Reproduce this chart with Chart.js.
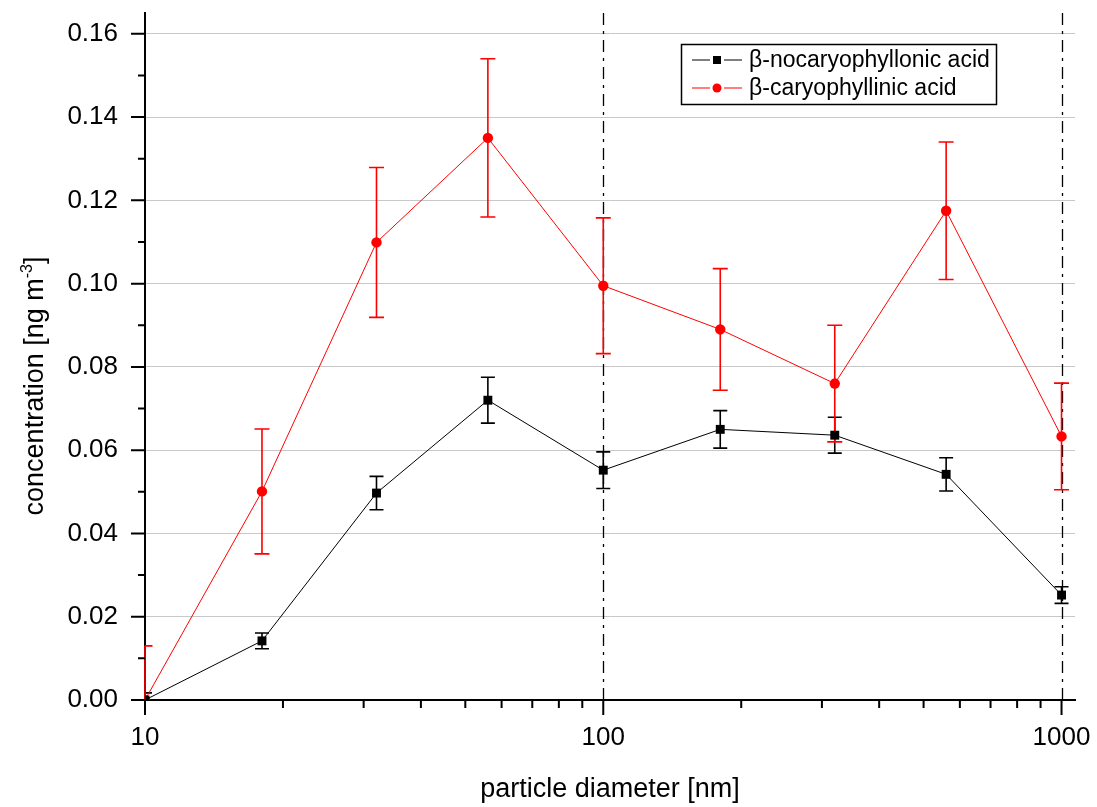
<!DOCTYPE html>
<html>
<head>
<meta charset="utf-8">
<script src="https://cdn.jsdelivr.net/npm/chart.js@4.4.1/dist/chart.umd.min.js"></script>
<style>
  html, body { margin: 0; padding: 0; background: #fff; }
  canvas { display: block; }
</style>
</head>
<body>
<canvas id="chart" width="1097" height="807"></canvas>
<script>
// particle diameter (nm) and the two series
const diameters = [10, 18, 32, 56, 100, 180, 320, 560, 1000];
const nocaryValues = [0.0000, 0.0142, 0.0497, 0.0720, 0.0552, 0.0650, 0.0636, 0.0542, 0.0252];
const nocaryErrors = [0.0017, 0.0019, 0.0040, 0.0055, 0.0044, 0.0045, 0.0043, 0.0040, 0.0020];
const caryValues = [0.0000, 0.0501, 0.1099, 0.1350, 0.0995, 0.0890, 0.0760, 0.1175, 0.0633];
const caryErrors = [0.0130, 0.0150, 0.0180, 0.0190, 0.0163, 0.0146, 0.0140, 0.0165, 0.0128];

const xMajorTicks = [10, 100, 1000];
const xMinorTicks = [20, 30, 40, 50, 60, 70, 80, 90, 200, 300, 400, 500, 600, 700, 800, 900];
const yMajorTicks = [0, 0.02, 0.04, 0.06, 0.08, 0.10, 0.12, 0.14, 0.16];
const yMinorTicks = [0.01, 0.03, 0.05, 0.07, 0.09, 0.11, 0.13, 0.15];
const dashDotLines = [100, 1000];

const FONT = "'Liberation Sans', Arial, sans-serif";

function toPoints(values) {
  return diameters.map((d, i) => ({ x: d, y: values[i] }));
}

// keep the plot frame where the reference has it
function noLabelPadding(s) {
  s.paddingTop = 0; s.paddingBottom = 0; s.paddingLeft = 0; s.paddingRight = 0;
}

const errorBars = {
  id: 'errorBars',
  beforeDatasetsDraw(chart) {
    const { ctx, chartArea, scales: { x, y } } = chart;
    ctx.save();
    ctx.beginPath();
    ctx.rect(chartArea.left - 2, chartArea.top, chartArea.right - chartArea.left + 2, chartArea.bottom - chartArea.top);
    ctx.clip();

    // vertical dash-dot lines at the decades
    ctx.strokeStyle = '#000';
    ctx.lineWidth = 1.3;
    ctx.setLineDash([12, 6, 3, 6]);
    dashDotLines.forEach(v => {
      const px = Math.round(x.getPixelForValue(v)) + 0.5;
      ctx.beginPath();
      ctx.moveTo(px, chartArea.bottom);
      ctx.lineTo(px, chartArea.top);
      ctx.stroke();
    });
    ctx.setLineDash([]);

    chart.data.datasets.forEach(ds => {
      const errs = ds.errors;
      ctx.strokeStyle = ds.borderColor;
      ctx.lineWidth = 1.6;
      ds.data.forEach((p, i) => {
        const px = x.getPixelForValue(p.x);
        const top = y.getPixelForValue(p.y + errs[i]);
        const bot = y.getPixelForValue(p.y - errs[i]);
        const cap = ds.capWidth / 2;
        ctx.beginPath();
        ctx.moveTo(px, top); ctx.lineTo(px, bot);
        ctx.moveTo(Math.max(px - cap, chartArea.left), top); ctx.lineTo(px + cap, top);
        ctx.moveTo(Math.max(px - cap, chartArea.left), bot); ctx.lineTo(px + cap, bot);
        ctx.stroke();
      });
    });
    ctx.restore();
  },
  afterDraw(chart) {
    const { ctx, chartArea, scales: { x, y } } = chart;
    ctx.save();
    ctx.strokeStyle = '#000';
    ctx.lineWidth = 2;

    // y ticks, outward
    ctx.beginPath();
    yMajorTicks.forEach(v => {
      const py = y.getPixelForValue(v);
      ctx.moveTo(chartArea.left - 14, py); ctx.lineTo(chartArea.left, py);
    });
    yMinorTicks.forEach(v => {
      const py = y.getPixelForValue(v);
      ctx.moveTo(chartArea.left - 7, py); ctx.lineTo(chartArea.left, py);
    });
    // x ticks, outward
    xMajorTicks.forEach(v => {
      const px = x.getPixelForValue(v);
      ctx.moveTo(px, chartArea.bottom); ctx.lineTo(px, chartArea.bottom + 15);
    });
    xMinorTicks.forEach(v => {
      const px = x.getPixelForValue(v);
      ctx.moveTo(px, chartArea.bottom); ctx.lineTo(px, chartArea.bottom + 8);
    });
    ctx.stroke();

    // y axis title with superscript
    ctx.fillStyle = '#000';
    ctx.translate(43, 386);
    ctx.rotate(-Math.PI / 2);
    ctx.textBaseline = 'alphabetic';
    const main = 'concentration [ng m';
    const sup = '-3';
    const end = ']';
    ctx.font = '27px ' + FONT;
    const wMain = ctx.measureText(main).width;
    const wEnd = ctx.measureText(end).width;
    ctx.font = '16px ' + FONT;
    const wSup = ctx.measureText(sup).width;
    let tx = -(wMain + wSup + wEnd) / 2;
    ctx.font = '27px ' + FONT;
    ctx.fillText(main, tx, 0);
    tx += wMain;
    ctx.font = '16px ' + FONT;
    ctx.fillText(sup, tx, -11);
    tx += wSup;
    ctx.font = '27px ' + FONT;
    ctx.fillText(end, tx, 0);
    ctx.restore();

    // legend box
    ctx.save();
    const lx = 681, ly = 44, lw = 315, lh = 60;
    ctx.fillStyle = '#fff';
    ctx.fillRect(lx, ly, lw, lh);
    ctx.strokeStyle = '#000';
    ctx.lineWidth = 1.5;
    ctx.strokeRect(lx + 0.5, ly + 0.5, lw, lh);
    const rows = [60, 88];
    chart.data.datasets.forEach((ds, i) => {
      const ry = rows[i];
      ctx.strokeStyle = ds.borderColor;
      ctx.lineWidth = 1.2;
      ctx.beginPath();
      ctx.moveTo(692, ry); ctx.lineTo(710, ry);
      ctx.moveTo(724, ry); ctx.lineTo(742, ry);
      ctx.stroke();
      ctx.fillStyle = ds.borderColor;
      if (ds.pointStyle === 'rect') {
        ctx.fillRect(713, ry - 4, 8, 8);
      } else {
        ctx.beginPath();
        ctx.arc(717, ry, 4.5, 0, Math.PI * 2);
        ctx.fill();
      }
      ctx.fillStyle = '#000';
      ctx.font = '23px ' + FONT;
      ctx.textBaseline = 'middle';
      ctx.fillText(ds.label, 749, ry + 1);
    });
    ctx.restore();
  }
};

new Chart(document.getElementById('chart'), {
  type: 'line',
  data: {
    datasets: [
      {
        label: '\u03b2-nocaryophyllonic acid',
        data: toPoints(nocaryValues),
        errors: nocaryErrors,
        capWidth: 14,
        borderColor: '#000',
        backgroundColor: '#000',
        borderWidth: 1,
        pointStyle: 'rect',
        pointRadius: 6.3,
        pointBorderWidth: 0,
        tension: 0,
        clip: 0
      },
      {
        label: '\u03b2-caryophyllinic acid',
        data: toPoints(caryValues),
        errors: caryErrors,
        capWidth: 15,
        borderColor: '#ff0000',
        backgroundColor: '#ff0000',
        borderWidth: 1,
        pointStyle: 'circle',
        pointRadius: 5.2,
        pointBorderWidth: 0,
        tension: 0,
        clip: 0
      }
    ]
  },
  options: {
    responsive: false,
    animation: false,
    events: [],
    layout: { padding: { top: 13, right: 22, left: 0, bottom: 0 } },
    plugins: {
      legend: { display: false },
      tooltip: { enabled: false }
    },
    scales: {
      x: {
        type: 'logarithmic',
        min: 10,
        max: 1070,
        afterFit: s => { s.height = 107; noLabelPadding(s); },
        afterBuildTicks: s => { s.ticks = xMajorTicks.map(v => ({ value: v })); },
        grid: { display: false, drawTicks: false },
        border: { display: true, color: '#000', width: 2 },
        ticks: {
          color: '#000',
          padding: 22,
          maxRotation: 0,
          autoSkip: false,
          font: { family: FONT, size: 26 },
          callback: v => String(v)
        },
        title: {
          display: true,
          text: 'particle diameter [nm]',
          color: '#000',
          font: { family: FONT, size: 27 },
          padding: { top: 0, bottom: 1 }
        }
      },
      y: {
        min: 0,
        max: 0.165,
        afterFit: s => { s.width = 145; noLabelPadding(s); },
        afterBuildTicks: s => { s.ticks = yMajorTicks.map(v => ({ value: v })); },
        grid: { color: '#c8c8c8', lineWidth: 1, drawTicks: false },
        border: { display: true, color: '#000', width: 2 },
        ticks: {
          color: '#000',
          padding: 27,
          font: { family: FONT, size: 26 },
          callback: v => Number(v).toFixed(2)
        }
      }
    }
  },
  plugins: [errorBars]
});
</script>
</body>
</html>
